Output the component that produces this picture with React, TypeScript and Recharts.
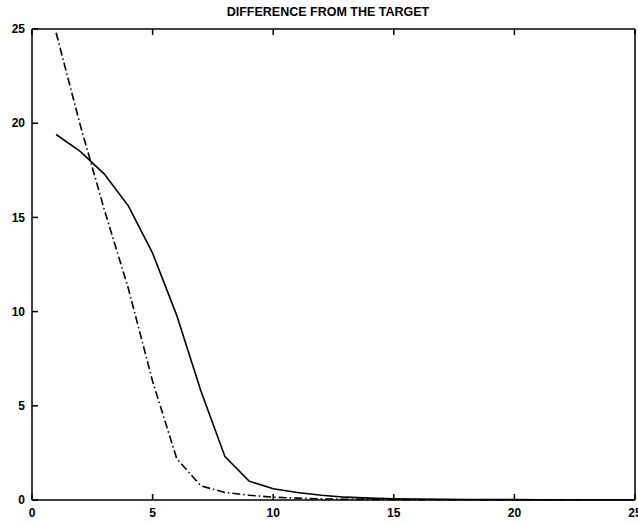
import { Line, LineChart, XAxis, YAxis } from 'recharts'

const steps = [1, 2, 3, 4, 5, 6, 7, 8, 9, 10, 11, 12, 13, 14, 15, 16, 17, 18, 19, 20, 21, 22, 23, 24, 25]
const solidDiff = [
  19.4, 18.5, 17.3, 15.6, 13.1, 9.8, 5.8, 2.3, 1.0, 0.6, 0.4, 0.25, 0.15, 0.1, 0.07, 0.05, 0.04, 0.03,
  0.02, 0.02, 0.01, 0.01, 0.01, 0.01, 0.01,
]
const dashDotDiff = [
  24.8, 19.9, 15.4, 11.2, 6.3, 2.2, 0.75, 0.4, 0.25, 0.15, 0.1, 0.06, 0.04, 0.03, 0.02, 0.01, 0.01,
  0.01, 0.01, 0.01, 0.01, 0.01, 0.01, 0.01, 0.01,
]
const axisTicks = [0, 5, 10, 15, 20, 25]
const title = 'DIFFERENCE FROM THE TARGET'

const data = steps.map((step, i) => ({ step, solid: solidDiff[i], dashDot: dashDotDiff[i] }))

const font = 'Liberation Sans, Arial, sans-serif'
const tickStyle = { fill: '#000', fontSize: 12, fontWeight: 700, fontFamily: font }
const tickMark = { stroke: '#000', strokeWidth: 1.5 }

export default function App() {
  return (
    <div style={{ position: 'absolute', left: 0, top: 0, width: 638, height: 523, background: '#fff' }}>
      <div
        style={{
          position: 'absolute',
          left: 0,
          width: 656,
          top: 5,
          textAlign: 'center',
          fontFamily: font,
          fontWeight: 700,
          fontSize: 12.5,
          color: '#000',
        }}
      >
        {title}
      </div>
      <LineChart width={638} height={523} data={data} margin={{ top: 28, right: 2, bottom: 3, left: 0 }}>
        <XAxis
          dataKey="step"
          type="number"
          domain={[0, 25]}
          ticks={axisTicks}
          height={20}
          tickSize={-6}
          tickMargin={14}
          stroke="#000"
          strokeWidth={1.5}
          tickLine={tickMark}
          tick={tickStyle}
          interval={0}
        />
        <XAxis
          xAxisId="top"
          orientation="top"
          dataKey="step"
          type="number"
          domain={[0, 25]}
          ticks={axisTicks}
          height={1}
          tickSize={-6}
          stroke="#000"
          strokeWidth={1.5}
          tickLine={tickMark}
          tickFormatter={() => ''}
          interval={0}
        />
        <YAxis
          type="number"
          domain={[0, 25]}
          ticks={axisTicks}
          width={32}
          tickSize={-6}
          tickMargin={13}
          stroke="#000"
          strokeWidth={1.5}
          tickLine={tickMark}
          tick={tickStyle}
          interval={0}
        />
        <YAxis
          yAxisId="right"
          orientation="right"
          type="number"
          domain={[0, 25]}
          ticks={axisTicks}
          width={1}
          tickSize={-6}
          stroke="#000"
          strokeWidth={1.5}
          tickLine={tickMark}
          tickFormatter={() => ''}
          interval={0}
        />
        <Line
          dataKey="solid"
          stroke="#000"
          strokeWidth={1.6}
          dot={false}
          type="linear"
          isAnimationActive={false}
        />
        <Line
          dataKey="dashDot"
          stroke="#000"
          strokeWidth={1.6}
          strokeDasharray="8 3 1.5 3"
          dot={false}
          type="linear"
          isAnimationActive={false}
        />
      </LineChart>
    </div>
  )
}
